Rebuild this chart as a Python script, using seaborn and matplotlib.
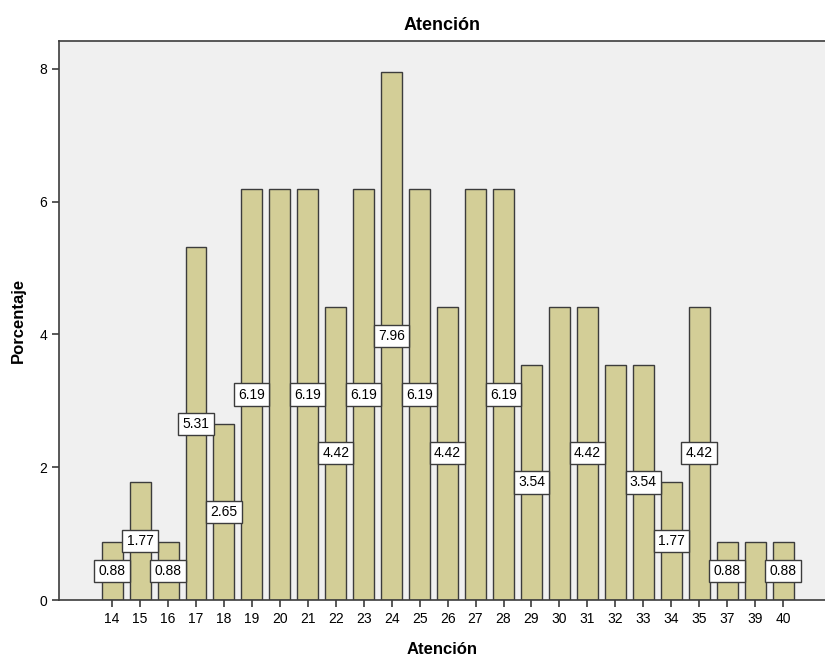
import matplotlib
matplotlib.use("Agg")
import matplotlib.pyplot as plt
import seaborn as sns
import pandas as pd

categories = ["14", "15", "16", "17", "18", "19", "20", "21", "22", "23", "24", "25",
              "26", "27", "28", "29", "30", "31", "32", "33", "34", "35", "37", "39", "40"]
percent = [0.88, 1.77, 0.88, 5.31, 2.65, 6.19, 6.19, 6.19, 4.42, 6.19, 7.96, 6.19,
           4.42, 6.19, 6.19, 3.54, 4.42, 4.42, 3.54, 3.54, 1.77, 4.42, 0.88, 0.88, 0.88]
# labels that are visible in the original (others hidden due to overlap)
label_shown = [True, True, True, True, True, True, False, True, True, True, True, True,
               True, False, True, True, False, True, False, True, True, True, True, False, True]

df = pd.DataFrame({"cat": categories, "pct": percent})

sns.set_style("ticks")
plt.rcParams['font.family'] = ['Arial', 'Liberation Sans', 'DejaVu Sans']
plt.rcParams['text.color'] = 'black'
plt.rcParams['axes.labelcolor'] = 'black'
plt.rcParams['xtick.color'] = 'black'
plt.rcParams['ytick.color'] = 'black'

fig = plt.figure(figsize=(8.25, 6.58), dpi=100)
ax = fig.add_axes([59/825, 1 - 600/658, (825-59)/825, (600-41)/658])
ax.set_facecolor("#f0f0f0")

sns.barplot(data=df, x="cat", y="pct", order=categories, color="#d3ce97",
            edgecolor="#3c3c3c", linewidth=1.0, width=0.75, saturation=1, ax=ax)

for i, (v, s) in enumerate(zip(percent, label_shown)):
    if s:
        ax.text(i, v / 2, f"{v:.2f}", ha="center", va="center", fontsize=10,
                color="black",
                bbox=dict(boxstyle="square,pad=0.3", facecolor="white",
                          edgecolor="#3c3c3c", linewidth=1.0), zorder=5)

ax.set_xlim(-1.9, 25.5)
ax.set_ylim(0, 8.42)
ax.set_yticks([0, 2, 4, 6, 8])
ax.set_yticklabels(["0", "2", "4", "6", "8"])
ax.tick_params(axis="both", direction="out", length=5, width=1.2, color="#3c3c3c",
               labelsize=10, labelcolor="black")
for sp in ["left", "top", "bottom"]:
    ax.spines[sp].set_color("#3c3c3c")
    ax.spines[sp].set_linewidth(1.2)
    ax.spines[sp].set_visible(True)
ax.spines["right"].set_visible(False)

ax.set_title("Atención", fontsize=13, fontweight="bold", pad=8, color="black")
ax.set_xlabel("Atención", fontsize=12, fontweight="bold", labelpad=12, color="black")
ax.set_ylabel("Porcentaje", fontsize=12, fontweight="bold", labelpad=10, color="black")

fig.savefig("out.png", dpi=100)
